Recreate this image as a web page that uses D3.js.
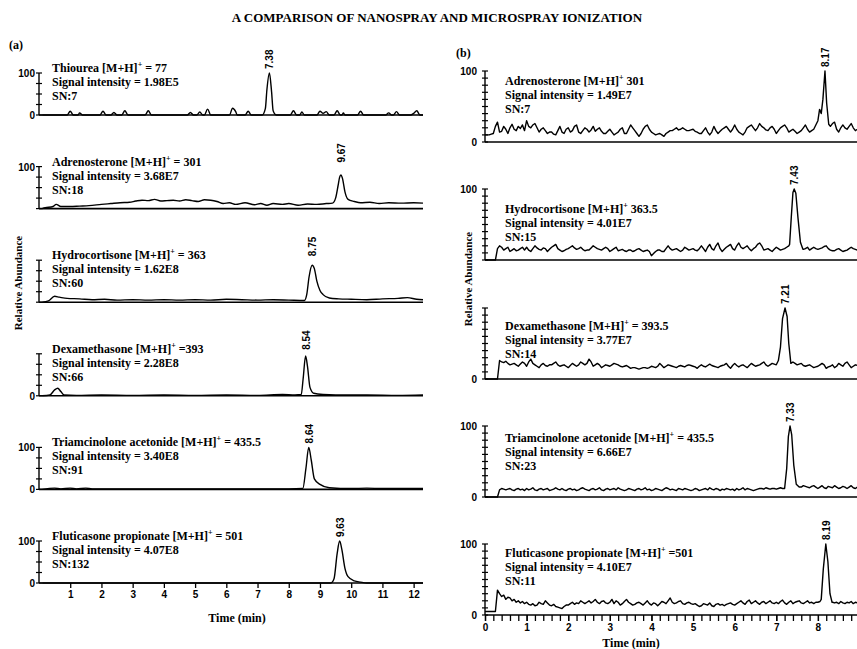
<!DOCTYPE html>
<html>
<head>
<meta charset="utf-8">
<script src="https://cdn.jsdelivr.net/npm/d3@7"></script>
<style>
    body { margin: 0; background: #fff; }
    svg { display: block; }
    .serif { font-family: "Liberation Serif", "Times New Roman", serif; }
    .sans { font-family: "Liberation Sans", Arial, sans-serif; }
</style>
</head>
<body>
<svg id="chart" width="857" height="649"></svg>
<script>
    // ---- data ----
    var titleText = "A COMPARISON OF NANOSPRAY AND MICROSPRAY IONIZATION";

    // (a) nanospray, time axis 0-12 min
    var leftCompounds = ["Thiourea", "Adrenosterone", "Hydrocortisone", "Dexamethasone", "Triamcinolone acetonide", "Fluticasone propionate"];
    var leftMz = [" = 77", " = 301", " = 363", " =393", " = 435.5", " = 501"];
    var leftIntensity = ["1.98E5", "3.68E7", "1.62E8", "2.28E8", "3.40E8", "4.07E8"];
    var leftSN = ["7", "18", "60", "66", "91", "132"];
    var leftPeakTimes = [7.38, 9.67, 8.75, 8.54, 8.64, 9.63];
    var leftTicks = [1, 2, 3, 4, 5, 6, 7, 8, 9, 10, 11, 12];

    var leftTrace1 = [[0.1,0],[0.9,0],[1.0,9],[1.1,0],[1.25,0],[1.3,5],[1.4,0],[1.95,0],[2.05,9],[2.15,0],[2.3,0],[2.4,6],[2.5,0],[2.65,0],[2.75,10],[2.85,0],[3.4,0],[3.5,10],[3.6,0],[4.75,0],[4.85,6],[4.95,0],[5.05,0],[5.15,7],[5.25,0],[5.3,0],[5.4,14],[5.5,0],[6.1,0],[6.2,16],[6.3,8],[6.35,0],[6.6,0],[6.7,9],[6.8,0],[7.15,0],[7.25,15],[7.3,60],[7.38,100],[7.45,55],[7.5,10],[7.6,0],[8.05,0],[8.15,10],[8.25,0],[8.35,0],[8.42,7],[8.5,0],[8.9,0],[9.0,9],[9.1,4],[9.2,8],[9.3,0],[9.45,0],[9.55,10],[9.65,0],[9.7,0],[9.75,5],[9.8,0],[10.2,0],[10.3,9],[10.4,0],[11.1,0],[11.2,5],[11.3,0],[11.35,0],[11.45,8],[11.55,0],[11.9,0],[12.0,4],[12.1,10],[12.2,0],[12.3,0]];
    var leftTrace2 = [[0.1,0],[0.2,2],[0.45,5],[0.55,10],[0.7,5],[1.0,5],[1.3,6],[1.6,7],[2.0,10],[2.3,12],[2.6,14],[2.9,15],[3.1,18],[3.3,20],[3.5,19],[3.7,22],[3.9,18],[4.1,19],[4.3,20],[4.5,18],[4.7,21],[4.9,19],[5.1,17],[5.3,21],[5.5,20],[5.7,17],[5.9,12],[6.1,14],[6.3,10],[6.6,14],[6.9,9],[7.1,12],[7.3,8],[7.5,12],[7.8,10],[8.0,12],[8.3,8],[8.6,11],[8.9,10],[9.2,12],[9.4,13],[9.5,25],[9.58,55],[9.63,75],[9.67,80],[9.72,72],[9.8,40],[9.9,22],[10.1,17],[10.3,14],[10.6,15],[10.9,12],[11.2,14],[11.6,13],[12.0,14],[12.3,13]];
    var leftTrace3 = [[0.1,0],[0.3,3],[0.5,14],[0.65,12],[0.9,9],[1.3,8],[1.7,6],[2.1,7],[2.5,5],[3.0,6],[3.5,5],[4.0,6],[4.5,5],[5.0,6],[5.5,5],[6.0,7],[6.5,6],[7.0,5],[7.5,6],[8.0,5],[8.5,4],[8.58,20],[8.65,60],[8.75,88],[8.82,80],[8.9,50],[9.0,28],[9.1,18],[9.3,10],[9.6,8],[10.0,7],[10.5,6],[11.0,8],[11.5,9],[11.8,11],[12.1,7],[12.3,6]];
    var leftTrace4 = [[0.1,0],[0.35,2],[0.5,14],[0.6,18],[0.7,10],[0.8,2],[1.2,1],[2.0,2],[3.0,1],[4.0,2],[5.0,1],[6.0,2],[7.0,1],[7.8,3],[8.2,2],[8.4,3],[8.46,40],[8.54,95],[8.6,70],[8.68,20],[8.8,6],[9.1,3],[9.5,2],[10.5,2],[11.5,1],[12.3,2]];
    var leftTrace5 = [[0.1,0],[0.5,3],[0.7,1],[1.0,3],[1.2,1],[1.5,3],[1.7,1],[2.5,1],[4.0,1],[6.0,1],[8.0,1],[8.45,2],[8.55,50],[8.64,100],[8.72,70],[8.82,25],[9.0,12],[9.3,4],[10.0,2],[10.5,3],[11.0,2],[12.3,2]];
    var leftTrace6 = [[0.1,0],[9.35,0],[9.45,10],[9.55,70],[9.63,100],[9.7,80],[9.8,35],[9.9,15],[10.1,5],[10.3,2],[10.5,0],[12.3,0]];
    var leftTraces = [leftTrace1, leftTrace2, leftTrace3, leftTrace4, leftTrace5, leftTrace6];
    var left100Label = [true, true, false, false, true, true];
    var left0Label = [true, false, false, true, true, true];

    // (b) microspray, time axis 0-9 min, sampled every 0.05 min, peaks listed apart
    var rightCompounds = ["Adrenosterone", "Hydrocortisone", "Dexamethasone", "Triamcinolone acetonide", "Fluticasone propionate"];
    var rightMz = [" 301", " 363.5", " = 393.5", " = 435.5", " =501"];
    var rightIntensity = ["1.49E7", "4.01E7", "3.77E7", "6.66E7", "4.10E7"];
    var rightSN = ["7", "15", "14", "23", "11"];
    var rightPeakTimes = [8.17, 7.43, 7.21, 7.33, 8.19];
    var rightTicks = [0, 1, 2, 3, 4, 5, 6, 7, 8, 9];

    var rightNoise1 = [
        10,10,10,11,12,22,28,14,15,22,18,12,20,25,18,16,22,19,24,16,
        30,22,20,24,26,20,14,18,20,16,12,14,14,11,10,16,22,14,12,18,
        20,14,16,22,24,14,12,16,20,18,14,17,22,15,18,20,15,12,12,15,
        18,14,10,12,14,18,20,12,12,18,24,20,16,12,8,12,18,22,24,18,
        14,12,10,11,12,10,8,12,14,16,16,18,20,17,18,20,18,16,16,17,
        18,15,14,12,12,16,20,14,10,14,22,16,12,15,18,20,22,18,14,18,
        24,18,14,12,10,14,20,22,24,20,16,20,26,22,20,17,16,20,22,18,
        12,16,20,22,24,20,14,16,18,15,12,14,16,20,24,18,14,16,18,24,
        30,40,50,60,40,28,22,26,28,18,14,20,24,20,18,22,26,20,16,18,
        22,18,14,17,20,16,18];
    var rightPeak1 = [[8.04,46],[8.08,40],[8.12,60],[8.17,100],[8.21,55],[8.26,25]];
    var rightNoise2 = [
        0,0,0,0,0,0,16,20,18,14,16,18,12,14,16,13,14,16,18,14,
        18,14,12,16,20,17,15,14,17,16,12,15,18,20,22,16,14,12,13,15,
        16,18,20,17,15,16,18,15,13,14,14,17,20,18,16,15,14,16,18,16,
        12,14,16,18,13,14,15,13,12,14,14,12,13,15,16,14,12,13,14,12,
        6,9,12,14,14,12,12,16,20,16,14,15,16,14,12,14,18,16,14,15,
        16,14,13,16,20,16,12,18,22,16,14,20,24,16,12,15,18,20,22,16,
        14,20,24,18,16,18,20,16,13,16,18,22,24,20,14,15,16,14,12,15,
        18,16,14,15,16,18,20,60,95,100,94,60,25,15,16,18,14,16,18,16,
        15,16,17,19,20,16,14,13,13,15,16,14,12,13,14,16,18,16,15,14,
        16,18,20,17,14,15,16];
    var rightPeak2 = [[7.32,22],[7.36,60],[7.4,95],[7.43,100],[7.47,94],[7.52,60],[7.58,25],[7.64,15]];
    var rightNoise3 = [
        0,0,0,0,0,0,0,26,24,23,25,22,20,21,22,20,18,21,24,22,
        18,24,28,22,20,18,16,20,22,19,18,20,20,22,24,20,18,19,20,18,
        16,19,22,20,18,20,24,22,20,22,28,24,18,20,22,20,16,18,20,19,
        18,20,22,21,20,18,17,18,19,17,15,16,16,15,14,15,16,16,15,16,
        18,17,16,18,22,19,16,18,20,19,18,17,16,18,19,18,17,19,20,19,
        18,17,15,18,20,18,17,19,21,19,18,17,16,18,19,20,22,18,15,19,
        22,19,17,19,20,18,16,19,22,20,18,19,20,22,24,20,18,20,22,21,
        20,26,45,85,100,88,50,22,24,22,20,21,22,19,18,19,20,18,16,17,
        18,20,22,20,15,17,18,20,16,18,22,20,18,22,24,20,16,18,20,19,
        18,20,22,18,15,17,18];
    var rightPeak3 = [[7.05,26],[7.1,45],[7.15,85],[7.21,100],[7.26,88],[7.3,50],[7.35,22]];
    var rightNoise4 = [
        0,0,0,0,0,0,0,10,12,11,10,11,12,10,9,11,12,10,11,9,
        12,10,11,13,10,9,11,12,10,11,12,9,10,11,13,11,10,12,10,9,
        11,12,10,11,9,10,12,13,11,10,9,11,12,10,11,13,10,9,11,12,
        10,11,12,10,13,11,10,9,10,12,11,10,9,11,12,10,11,13,10,11,
        9,10,12,11,10,9,11,13,12,10,11,10,9,12,11,10,12,11,10,9,
        10,12,11,9,10,11,12,10,13,11,10,12,11,9,11,10,12,11,10,11,
        9,12,10,11,13,10,12,11,10,9,10,11,12,12,11,13,12,11,12,12,
        11,12,13,12,12,40,85,100,88,45,18,14,14,16,15,14,13,15,16,14,
        12,14,16,13,12,15,14,13,16,14,12,13,15,14,12,14,16,13,12,14,
        13,15,14,12,13,14,13];
    var rightPeak4 = [[7.2,12],[7.25,40],[7.29,85],[7.33,100],[7.37,88],[7.42,45],[7.48,18],[7.55,14]];
    var rightNoise5 = [
        5,5,5,5,5,5,35,30,26,28,22,25,24,20,22,18,20,17,19,16,
        18,15,14,16,13,14,18,16,15,20,17,14,13,15,12,11,10,9,12,14,
        14,16,18,15,17,16,20,18,16,18,20,17,19,22,18,16,19,20,17,16,
        18,22,16,20,18,14,16,19,22,18,16,14,15,17,18,16,14,17,20,16,
        14,17,16,13,16,19,18,16,20,24,18,16,17,19,20,16,15,17,18,16,
        15,16,14,12,13,16,15,14,17,13,12,15,16,14,15,13,15,16,17,15,
        14,16,18,20,17,15,19,21,16,18,20,17,15,18,19,16,18,20,17,16,
        18,16,19,21,17,15,18,20,16,18,19,20,17,16,18,20,17,18,16,18,
        18,19,22,65,100,75,30,18,17,18,16,19,17,16,18,17,19,16,18,17,
        18,16,19,17,18,16,17];
    var rightPeak5 = [[8.08,22],[8.13,65],[8.19,100],[8.24,75],[8.29,30],[8.34,18]];
    var rightNoises = [rightNoise1, rightNoise2, rightNoise3, rightNoise4, rightNoise5];
    var rightPeaks = [rightPeak1, rightPeak2, rightPeak3, rightPeak4, rightPeak5];
    var right100Label = [true, true, false, true, true];
    var right0Label = [true, false, true, true, true];

    // ---- layout ----
    var svg = d3.select("#chart");

    var leftX = d3.scaleLinear().domain([0, 12.3]).range([39, 423]);
    var rightX = d3.scaleLinear().domain([0, 9.3]).range([485, 872]);
    var leftBase = [115, 208.6, 302.2, 395.8, 489.4, 583];
    var leftHeight = 42;
    var rightBase = [142, 260, 379, 497, 615];
    var rightHeight = 71;

    svg.append("text")
        .attr("class", "serif")
        .attr("x", 437)
        .attr("y", 22)
        .attr("text-anchor", "middle")
        .attr("font-size", 13)
        .attr("font-weight", "bold")
        .text(titleText);

    svg.append("text").attr("class", "serif").attr("x", 9).attr("y", 49)
        .attr("font-size", 12).attr("font-weight", "bold").text("(a)");
    svg.append("text").attr("class", "serif").attr("x", 456).attr("y", 57)
        .attr("font-size", 12).attr("font-weight", "bold").text("(b)");

    svg.append("text")
        .attr("class", "serif")
        .attr("transform", "translate(22,283) rotate(-90)")
        .attr("text-anchor", "middle")
        .attr("font-size", 11)
        .attr("font-weight", "bold")
        .text("Relative Abundance");
    svg.append("text")
        .attr("class", "serif")
        .attr("transform", "translate(472,279) rotate(-90)")
        .attr("text-anchor", "middle")
        .attr("font-size", 11)
        .attr("font-weight", "bold")
        .text("Relative Abundance");

    function label(g, x, y, compound, mz, intensity, sn) {
        var t = g.append("text")
            .attr("class", "serif")
            .attr("font-size", 12)
            .attr("font-weight", "bold")
            .attr("x", x)
            .attr("y", y);
        t.append("tspan").text(compound + " [M+H]");
        t.append("tspan").attr("font-size", 8).attr("dy", -5).text("+");
        t.append("tspan").attr("dy", 5).text(mz);
        g.append("text").attr("class", "serif").attr("font-size", 12).attr("font-weight", "bold")
            .attr("x", x).attr("y", y + 14).text("Signal intensity = " + intensity);
        g.append("text").attr("class", "serif").attr("font-size", 12).attr("font-weight", "bold")
            .attr("x", x).attr("y", y + 28).text("SN:" + sn);
    }

    function panel(opt) {
        var y = d3.scaleLinear().domain([0, 100]).range([opt.base, opt.base - opt.height]);
        var g = svg.append("g");
        var x = opt.x;

        // baseline (x axis)
        g.append("line")
            .attr("x1", x.range()[0]).attr("x2", x.range()[1])
            .attr("y1", opt.base).attr("y2", opt.base)
            .attr("stroke", "#000").attr("stroke-width", 1.6);

        // y axis with crossing ticks
        g.append("line")
            .attr("x1", x.range()[0]).attr("x2", x.range()[0])
            .attr("y1", y(0)).attr("y2", y(100))
            .attr("stroke", "#000").attr("stroke-width", 1.4);
        g.selectAll("line.ytick")
            .data(d3.range(0, 101, opt.yStep))
            .enter().append("line")
            .attr("class", "ytick")
            .attr("x1", x.range()[0] - 3).attr("x2", x.range()[0] + 3)
            .attr("y1", function (d) { return y(d); })
            .attr("y2", function (d) { return y(d); })
            .attr("stroke", "#000").attr("stroke-width", 1.2);

        if (opt.show100) {
            g.append("text").attr("class", "sans").attr("font-size", 10).attr("font-weight", "bold")
                .attr("text-anchor", "end")
                .attr("x", x.range()[0] - opt.labelGap).attr("y", y(100) + 4).text("100");
        }
        if (opt.show0) {
            g.append("text").attr("class", "sans").attr("font-size", 10).attr("font-weight", "bold")
                .attr("text-anchor", "end")
                .attr("x", x.range()[0] - opt.labelGap).attr("y", y(0) + 4).text("0");
        }

        var line = d3.line()
            .x(function (d) { return x(d[0]); })
            .y(function (d) { return y(d[1]); })
            .curve(opt.curve);

        g.append("path")
            .datum(opt.trace)
            .attr("d", line)
            .attr("fill", "none")
            .attr("stroke", "#000")
            .attr("stroke-width", 1.4)
            .attr("stroke-linejoin", "round");

        // peak retention time, rotated
        var top = d3.max(opt.trace, function (d) { return d[1]; });
        g.append("text")
            .attr("class", "sans")
            .attr("font-size", 10)
            .attr("font-weight", "bold")
            .attr("transform", "translate(" + (x(opt.peak) + 4) + "," + (Math.min(y(top), y(100)) - 4) + ") rotate(-90)")
            .text(opt.peak.toFixed(2));

        label(g, opt.textX, opt.textY, opt.compound, opt.mz, opt.intensity, opt.sn);
        return g;
    }

    var i;
    for (i = 0; i < leftTraces.length; i++) {
        panel({
            x: leftX, base: leftBase[i], height: leftHeight, yStep: 25, labelGap: 4,
            trace: leftTraces[i], curve: d3.curveMonotoneX, peak: leftPeakTimes[i],
            show100: left100Label[i], show0: left0Label[i],
            textX: 52, textY: leftBase[i] - leftHeight - 1,
            compound: leftCompounds[i], mz: leftMz[i], intensity: leftIntensity[i], sn: leftSN[i]
        });
    }

    var rightTextOffset = [10, 20, 18, 12, 9];
    for (i = 0; i < rightNoises.length; i++) {
        var peaks = rightPeaks[i];
        var first = peaks[0][0], last = peaks[peaks.length - 1][0];
        var trace = rightNoises[i].map(function (v, k) { return [Math.round(k * 5) / 100, v]; })
            .filter(function (d) { return d[0] < first || d[0] > last; })
            .concat(peaks)
            .sort(function (a, b) { return a[0] - b[0]; });
        panel({
            x: rightX, base: rightBase[i], height: rightHeight, yStep: 10, labelGap: 8,
            trace: trace, curve: d3.curveLinear, peak: rightPeakTimes[i],
            show100: right100Label[i], show0: right0Label[i],
            textX: 505, textY: rightBase[i] - rightHeight + rightTextOffset[i] + 4,
            compound: rightCompounds[i], mz: rightMz[i], intensity: rightIntensity[i], sn: rightSN[i]
        });
    }

    // bottom time axes
    var leftAxis = svg.append("g")
        .attr("transform", "translate(0," + leftBase[5] + ")")
        .attr("class", "sans")
        .call(d3.axisBottom(leftX).tickValues(leftTicks).tickSize(5).tickSizeOuter(0).tickFormat(d3.format("d")));
    leftAxis.select(".domain").remove();
    leftAxis.selectAll("text").attr("font-size", 10).attr("font-weight", "bold").attr("fill", "#000")
        .attr("font-family", "Liberation Sans, Arial, sans-serif");
    leftAxis.selectAll("line").attr("stroke", "#000").attr("stroke-width", 1.3);

    var rightAxis = svg.append("g")
        .attr("transform", "translate(0," + rightBase[4] + ")")
        .call(d3.axisBottom(rightX).tickValues(d3.range(0, 9.21, 0.2)).tickSize(6).tickSizeOuter(0).tickFormat(""));
    rightAxis.select(".domain").remove();
    rightAxis.selectAll("line").attr("stroke", "#000").attr("stroke-width", 1.3);
    var rightLabels = svg.append("g")
        .attr("transform", "translate(0," + rightBase[4] + ")")
        .call(d3.axisBottom(rightX).tickValues(rightTicks).tickSize(6).tickSizeOuter(0).tickFormat(d3.format("d")));
    rightLabels.select(".domain").remove();
    rightLabels.selectAll("line").attr("stroke", "#000").attr("stroke-width", 1.3);
    rightLabels.selectAll("text").attr("font-size", 10).attr("font-weight", "bold").attr("fill", "#000")
        .attr("font-family", "Liberation Sans, Arial, sans-serif");

    svg.append("text").attr("class", "serif").attr("font-size", 12).attr("font-weight", "bold")
        .attr("text-anchor", "middle").attr("x", 237).attr("y", 622).text("Time (min)");
    svg.append("text").attr("class", "serif").attr("font-size", 12).attr("font-weight", "bold")
        .attr("text-anchor", "middle").attr("x", 631).attr("y", 647).text("Time (min)");
</script>
</body>
</html>
